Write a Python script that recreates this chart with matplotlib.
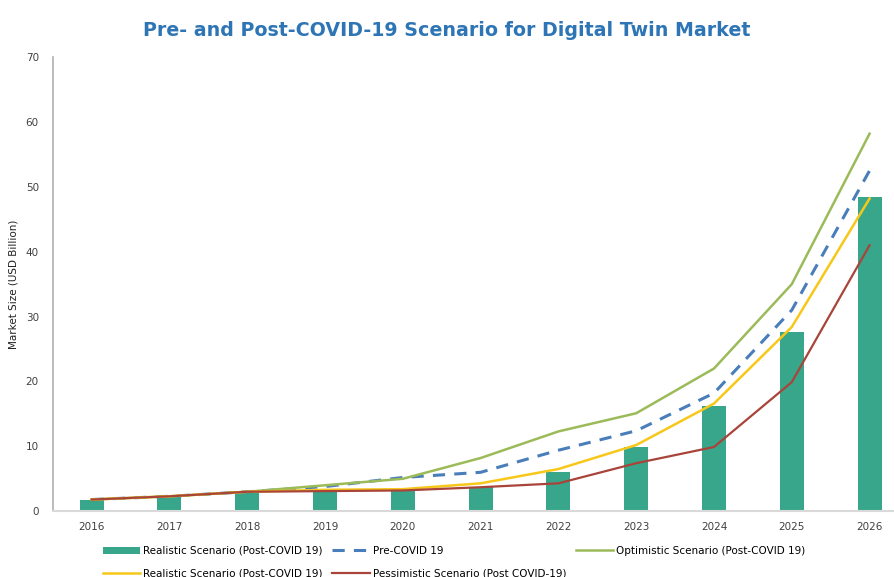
import numpy as np
import matplotlib.pyplot as plt

years = ["2016", "2017", "2018", "2019", "2020", "2021", "2022", "2023", "2024", "2025", "2026"]
realistic_bar = [1.7, 2.2, 2.8, 3.0, 3.1, 3.8, 6.0, 9.9, 16.2, 27.6, 48.4]
pre_covid = [1.8, 2.3, 3.0, 3.8, 5.2, 6.0, 9.4, 12.4, 18.2, 31.0, 52.5]
optimistic = [1.8, 2.3, 3.0, 4.0, 5.0, 8.2, 12.3, 15.1, 22.0, 35.0, 58.2]
realistic_line = [1.8, 2.3, 3.0, 3.3, 3.4, 4.3, 6.5, 10.2, 16.6, 28.4, 48.2]
pessimistic = [1.8, 2.3, 3.0, 3.1, 3.2, 3.7, 4.3, 7.4, 9.9, 19.9, 41.0]

fig = plt.figure(figsize=(8.94, 5.77), dpi=100)
ax = fig.add_axes([0.059, 0.114, 0.945, 0.787])

x = np.arange(len(years))
bars = ax.bar(x, realistic_bar, width=0.31, color="#38a68b", zorder=1,
              label="Realistic Scenario (Post-COVID 19)")
l_pre, = ax.plot(x, pre_covid, color="#4a7ebb", lw=2.2, dashes=(4, 3), label="Pre-COVID 19", zorder=3)
l_opt, = ax.plot(x, optimistic, color="#9bbb59", lw=1.8, label="Optimistic Scenario (Post-COVID 19)", zorder=3)
l_real, = ax.plot(x, realistic_line, color="#f7c71a", lw=1.8, label="Realistic Scenario (Post-COVID 19)", zorder=3)
l_pes, = ax.plot(x, pessimistic, color="#a9443a", lw=1.6, label="Pessimistic Scenario (Post COVID-19)", zorder=3)

ax.set_xlim(-0.5, 10.36)
ax.set_ylim(0, 70)
ax.set_yticks(range(0, 71, 10))
ax.set_xticks(x)
ax.set_xticklabels(years)
ax.tick_params(axis="both", length=0, labelsize=7.5, colors="#404040")
ax.tick_params(axis="x", pad=8)
ax.tick_params(axis="y", pad=10)
for s in ["top", "right"]:
    ax.spines[s].set_visible(False)
ax.spines["left"].set_color("#b0b0b0")
ax.spines["bottom"].set_color("#d9d9d9")
ax.spines["left"].set_linewidth(1.2)
ax.spines["bottom"].set_linewidth(1.5)
ax.set_ylabel("Market Size (USD Billion)", fontsize=7.5, color="#202020", labelpad=5)

fig.suptitle("Pre- and Post-COVID-19 Scenario for Digital Twin Market", x=0.5, y=0.963,
             fontsize=13.7, fontweight="bold", color="#2e75b6")

handles = [bars, l_real, l_pre, l_pes, l_opt]
labels = [h.get_label() for h in handles]
fig.legend(handles, labels, ncol=3, loc="upper center", bbox_to_anchor=(0.508, 0.07),
           frameon=False, fontsize=7.5, handlelength=3.6, columnspacing=0.9,
           handletextpad=0.3, labelspacing=1.2)

fig.savefig("out.png", dpi=100)
